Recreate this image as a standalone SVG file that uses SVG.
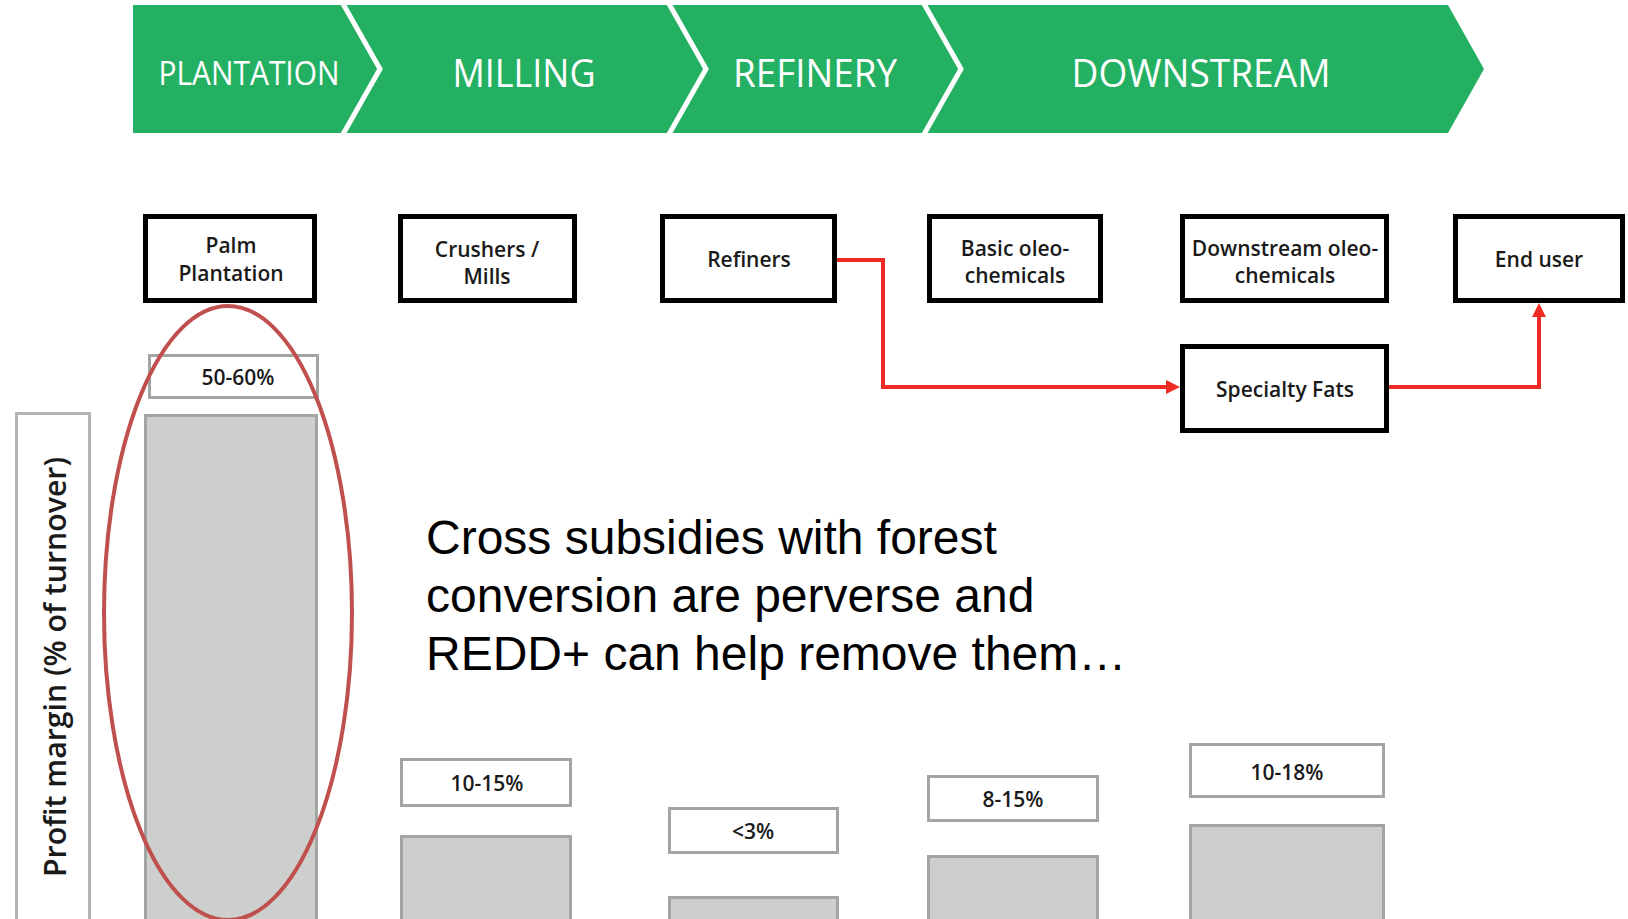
<svg xmlns="http://www.w3.org/2000/svg" width="1628" height="919" viewBox="0 0 1628 919">
<style>
.banner{fill:#24b063}
.sep{fill:none;stroke:#ffffff;stroke-width:5;stroke-linejoin:miter}
.btxt{font-family:"Open Sans","Noto Sans",sans-serif;fill:#ffffff;text-anchor:middle}
.node{fill:#ffffff;stroke:#000000;stroke-width:5}
.ntxt{font-family:"Open Sans","Noto Sans",sans-serif;font-weight:600;font-size:21px;fill:#1a1a1a;text-anchor:middle}
.val{fill:#ffffff;stroke:#a3a5a3;stroke-width:3}
.vtxt{font-family:"Open Sans","Noto Sans",sans-serif;font-weight:600;font-size:21px;fill:#1a1a1a;text-anchor:middle}
.bar{fill:#cdcfcc;stroke:#a3a5a3;stroke-width:3}
.conn{fill:none;stroke:#ef2b24;stroke-width:4}
.main{font-family:"Liberation Sans",Arial,sans-serif;font-size:48px;fill:#000000}
</style>
<defs>
<marker id="arr" viewBox="0 0 14 14" refX="10" refY="7" markerWidth="14" markerHeight="14" markerUnits="userSpaceOnUse" orient="auto">
<path d="M0,0 L14,7 L0,14 z" fill="#ef2b24"/>
</marker>
</defs>
<rect width="1628" height="919" fill="#ffffff"/>

<g id="banner">
<polygon class="banner" points="133,5 1448,5 1484,69 1448,133 133,133"/>
<polyline class="sep" points="342,2 380,69 342,136"/>
<polyline class="sep" points="668,2 706,69 668,136"/>
<polyline class="sep" points="923,2 961,69 923,136"/>
<text class="btxt" x="249" y="85" font-size="32" textLength="181" lengthAdjust="spacingAndGlyphs">PLANTATION</text>
<text class="btxt" x="524" y="87" font-size="38" textLength="143" lengthAdjust="spacingAndGlyphs">MILLING</text>
<text class="btxt" x="815" y="87" font-size="38" textLength="164" lengthAdjust="spacingAndGlyphs">REFINERY</text>
<text class="btxt" x="1201" y="87" font-size="38" textLength="259" lengthAdjust="spacingAndGlyphs">DOWNSTREAM</text>
</g>

<g id="palm-plantation">
<rect class="node" x="145.5" y="216.5" width="169" height="84"/>
<text class="ntxt" x="231" y="253">Palm</text>
<text class="ntxt" x="231" y="281">Plantation</text>
</g>
<g id="crushers-mills">
<rect class="node" x="400.5" y="216.5" width="174" height="84"/>
<text class="ntxt" x="487" y="257">Crushers /</text>
<text class="ntxt" x="487" y="284">Mills</text>
</g>
<g id="refiners">
<rect class="node" x="662.5" y="216.5" width="172" height="84"/>
<text class="ntxt" x="749" y="267">Refiners</text>
</g>
<g id="basic-oleochemicals">
<rect class="node" x="929.5" y="216.5" width="171" height="84"/>
<text class="ntxt" x="1015" y="256">Basic oleo-</text>
<text class="ntxt" x="1015" y="283">chemicals</text>
</g>
<g id="downstream-oleochemicals">
<rect class="node" x="1182.5" y="216.5" width="204" height="84"/>
<text class="ntxt" x="1285" y="256">Downstream oleo-</text>
<text class="ntxt" x="1285" y="283">chemicals</text>
</g>
<g id="end-user">
<rect class="node" x="1455.5" y="216.5" width="167" height="84"/>
<text class="ntxt" x="1539" y="267">End user</text>
</g>
<g id="specialty-fats">
<rect class="node" x="1182.5" y="346.5" width="204" height="84"/>
<text class="ntxt" x="1285" y="397">Specialty Fats</text>
</g>

<g id="connectors">
<path class="conn" d="M837,260 H883 V387 H1176" marker-end="url(#arr)"/>
<path class="conn" d="M1389,387 H1539 V307" marker-end="url(#arr)"/>
</g>

<g id="axis-label">
<rect x="16.5" y="413.5" width="73" height="530" fill="#ffffff" stroke="#b3b3b3" stroke-width="3"/>
<text x="66" y="667" transform="rotate(-90 66 667)" font-family="'Open Sans','Noto Sans',sans-serif" font-weight="600" font-size="31" fill="#1a1a1a" text-anchor="middle" textLength="420" lengthAdjust="spacingAndGlyphs">Profit margin (% of turnover)</text>
</g>

<g id="bar-plantation">
<rect class="bar" x="145.5" y="415.5" width="171" height="520"/>
<rect class="val" x="149.5" y="355.5" width="168" height="42"/>
<text class="vtxt" x="238" y="385">50-60%</text>
</g>
<g id="bar-milling">
<rect class="bar" x="401.5" y="836.5" width="169" height="100"/>
<rect class="val" x="401.5" y="759.5" width="169" height="46"/>
<text class="vtxt" x="487" y="791">10-15%</text>
</g>
<g id="bar-refinery">
<rect class="bar" x="669.5" y="897.5" width="168" height="40"/>
<rect class="val" x="669.5" y="808.5" width="168" height="44"/>
<text class="vtxt" x="753" y="839">&lt;3%</text>
</g>
<g id="bar-basic">
<rect class="bar" x="928.5" y="856.5" width="169" height="80"/>
<rect class="val" x="928.5" y="776.5" width="169" height="44"/>
<text class="vtxt" x="1013" y="807">8-15%</text>
</g>
<g id="bar-downstream">
<rect class="bar" x="1190.5" y="825.5" width="193" height="110"/>
<rect class="val" x="1190.5" y="744.5" width="193" height="52"/>
<text class="vtxt" x="1287" y="780">10-18%</text>
</g>

<g id="highlight">
<ellipse cx="228" cy="613" rx="124" ry="307" fill="none" stroke="#c0504d" stroke-width="4"/>
</g>

<g id="message">
<text class="main" x="426" y="554">Cross subsidies with forest</text>
<text class="main" x="426" y="612">conversion are perverse and</text>
<text class="main" x="426" y="670">REDD+ can help remove them…</text>
</g>
</svg>
